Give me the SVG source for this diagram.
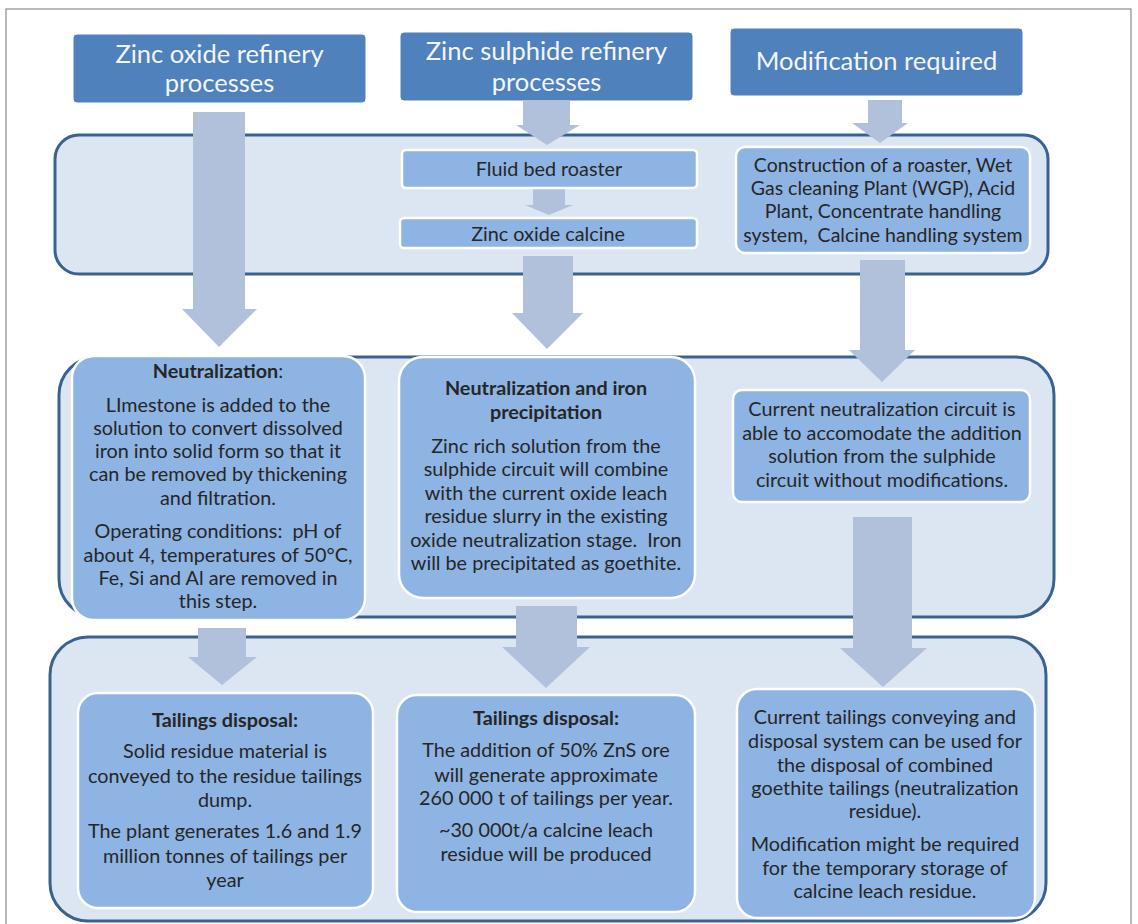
<svg xmlns="http://www.w3.org/2000/svg" width="1138" height="924" viewBox="0 0 1138 924">
  <style>
    .frame { fill: #ffffff; stroke: #8c8c8c; stroke-width: 1.2; }
    .head { fill: #4f81bd; stroke: #ffffff; stroke-width: 1; }
    .headtxt { font-family: Lato, "Liberation Sans", sans-serif; font-size: 25.5px; fill: #f4f6fa; text-anchor: middle; }
    .panel { fill: #dce6f2; stroke: #3a6290; stroke-width: 3; }
    .box { fill: #8eb4e3; stroke: #ffffff; stroke-width: 2.5; }
    .txt { font-family: Lato, "Liberation Sans", sans-serif; font-size: 19.8px; fill: #262626; text-anchor: middle; }
    .sm { font-size: 19.5px; }
    .b { font-weight: bold; }
    .arrow { fill: #b1c1dc; }
  </style>

  <!-- page frame -->
  <rect class="frame" x="6" y="9" width="1125" height="930"/>

  <!-- column headers -->
  <g id="hdr-oxide">
    <rect class="head" x="73" y="34" width="293" height="69" rx="4"/>
    <text class="headtxt" x="219.5" y="63">Zinc oxide refinery</text>
    <text class="headtxt" x="219.5" y="92">processes</text>
  </g>
  <g id="hdr-sulphide">
    <rect class="head" x="400" y="32" width="293" height="69" rx="4"/>
    <text class="headtxt" x="546.5" y="60">Zinc sulphide refinery</text>
    <text class="headtxt" x="546.5" y="91">processes</text>
  </g>
  <g id="hdr-modification">
    <rect class="head" x="730" y="28" width="293" height="68" rx="4"/>
    <text class="headtxt" x="876.5" y="70">Modification required</text>
  </g>

  <!-- stage panels -->
  <g id="panel-roasting">
    <rect class="panel" x="55" y="135" width="993" height="139" rx="24"/>
  </g>
  <g id="panel-neutralization">
    <rect class="panel" x="59" y="357" width="995" height="260" rx="38"/>
  </g>
  <g id="panel-tailings">
    <rect class="panel" x="50" y="637" width="996" height="284" rx="38"/>
  </g>

  <!-- flow arrows -->
  <g id="connectors">
    <polygon class="arrow" points="193,112 245,112 245,309 257,309 219,347 182,309 193,309"/>
    <polygon class="arrow" points="523,101 570,101 570,125 580,125 547,145 516,125 523,125"/>
    <polygon class="arrow" points="533,188 565,188 565,205 573,205 549,215 525,205 533,205"/>
    <polygon class="arrow" points="868,100 902,100 902,123 908,123 880,143 852,123 868,123"/>
    <polygon class="arrow" points="523,256 573,256 573,313 583,313 547,349 512,313 523,313"/>
    <polygon class="arrow" points="860,260 905,260 905,350 915,350 882,382 849,350 860,350"/>
    <polygon class="arrow" points="198,628 246,628 246,657 257,657 222,685 188,657 198,657"/>
    <polygon class="arrow" points="516,606 577,606 577,647 590,647 546,688 502,647 516,647"/>
    <polygon class="arrow" points="853,517 912,517 912,648 927,648 883,687 840,648 853,648"/>
  </g>

  <!-- roasting stage -->
  <g id="fluid-bed-roaster">
    <rect class="box" x="402" y="150" width="295" height="38" rx="4"/>
    <text class="txt" x="549" y="176">Fluid bed roaster</text>
  </g>
  <g id="zinc-oxide-calcine">
    <rect class="box" x="400" y="218" width="297" height="30" rx="4"/>
    <text class="txt" x="548" y="241">Zinc oxide calcine</text>
  </g>
  <g id="roaster-construction">
    <rect class="box" x="736" y="147" width="294" height="106" rx="9"/>
    <text class="txt sm" x="883" y="172">Construction of a roaster, Wet</text>
    <text class="txt sm" x="883" y="195">Gas cleaning Plant (WGP), Acid</text>
    <text class="txt sm" x="883" y="218">Plant, Concentrate handling</text>
    <text class="txt sm" x="883" y="242" xml:space="preserve">system,  Calcine handling system</text>
  </g>

  <!-- neutralization stage -->
  <g id="oxide-neutralization">
    <rect class="box" x="72" y="356" width="293" height="264" rx="22"/>
    <text class="txt" x="218" y="378"><tspan class="b">Neutralization</tspan>:</text>
    <text class="txt" x="218" y="412">LImestone is added to the</text>
    <text class="txt" x="218" y="435">solution to convert dissolved</text>
    <text class="txt" x="218" y="458">iron into solid form so that it</text>
    <text class="txt" x="218" y="481">can be removed by thickening</text>
    <text class="txt" x="218" y="505">and filtration.</text>
    <text class="txt" x="218" y="538" xml:space="preserve">Operating conditions:  pH of</text>
    <text class="txt" x="218" y="562">about 4, temperatures of 50°C,</text>
    <text class="txt" x="218" y="585">Fe, Si and Al are removed in</text>
    <text class="txt" x="218" y="608">this step.</text>
  </g>
  <g id="iron-precipitation">
    <rect class="box" x="399" y="357" width="296" height="241" rx="24"/>
    <text class="txt b" x="546" y="395">Neutralization and iron</text>
    <text class="txt b" x="546" y="419">precipitation</text>
    <text class="txt" x="546" y="453">Zinc rich solution from the</text>
    <text class="txt" x="546" y="476">sulphide circuit will combine</text>
    <text class="txt" x="546" y="500">with the current oxide leach</text>
    <text class="txt" x="546" y="523">residue slurry in the existing</text>
    <text class="txt" x="546" y="547" xml:space="preserve">oxide neutralization stage.  Iron</text>
    <text class="txt" x="546" y="570">will be precipitated as goethite.</text>
  </g>
  <g id="neutralization-capacity">
    <rect class="box" x="733" y="390" width="297" height="112" rx="9"/>
    <text class="txt" x="882" y="416">Current neutralization circuit is</text>
    <text class="txt" x="882" y="440">able to accomodate the addition</text>
    <text class="txt" x="882" y="463">solution from the sulphide</text>
    <text class="txt" x="882" y="487">circuit without modifications.</text>
  </g>

  <!-- tailings stage -->
  <g id="oxide-tailings">
    <rect class="box" x="78" y="693" width="295" height="215" rx="20"/>
    <text class="txt b" x="225" y="727">Tailings disposal:</text>
    <text class="txt" x="225" y="758">Solid residue material is</text>
    <text class="txt" x="225" y="783">conveyed to the residue tailings</text>
    <text class="txt" x="225" y="807">dump.</text>
    <text class="txt" x="225" y="838">The plant generates 1.6 and 1.9</text>
    <text class="txt" x="225" y="863">million tonnes of tailings per</text>
    <text class="txt" x="225" y="887">year</text>
  </g>
  <g id="sulphide-tailings">
    <rect class="box" x="397" y="695" width="298" height="217" rx="20"/>
    <text class="txt b" x="546" y="725">Tailings disposal:</text>
    <text class="txt" x="546" y="757">The addition of 50% ZnS ore</text>
    <text class="txt" x="546" y="782">will generate approximate</text>
    <text class="txt" x="546" y="805">260 000 t of tailings per year.</text>
    <text class="txt" x="546" y="837">~30 000t/a calcine leach</text>
    <text class="txt" x="546" y="861">residue will be produced</text>
  </g>
  <g id="tailings-capacity">
    <rect class="box" x="737" y="689" width="298" height="229" rx="20"/>
    <text class="txt" x="885" y="724">Current tailings conveying and</text>
    <text class="txt" x="885" y="748">disposal system can be used for</text>
    <text class="txt" x="885" y="772">the disposal of combined</text>
    <text class="txt" x="885" y="795">goethite tailings (neutralization</text>
    <text class="txt" x="885" y="818">residue).</text>
    <text class="txt" x="885" y="851">Modification might be required</text>
    <text class="txt" x="885" y="875">for the temporary storage of</text>
    <text class="txt" x="885" y="898">calcine leach residue.</text>
  </g>
</svg>
